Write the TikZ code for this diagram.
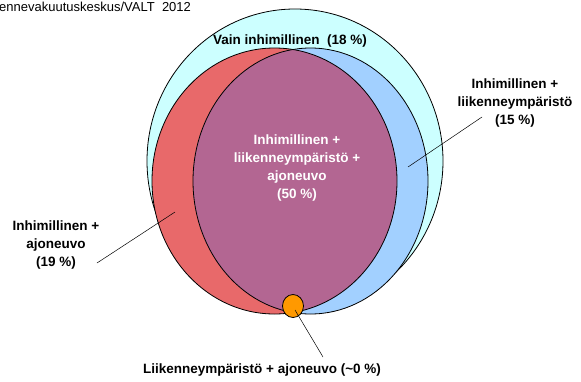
\documentclass[tikz,border=0pt]{standalone}
\usepackage{fontspec}
\usetikzlibrary{shapes.geometric}
\setmainfont{Liberation Sans}
\definecolor{cyanfill}{HTML}{CCFFFF}
\definecolor{redfill}{HTML}{E8696A}
\definecolor{bluefill}{HTML}{A2D0FF}
\definecolor{purplefill}{HTML}{B36692}
\definecolor{orangefill}{HTML}{FF9900}
\begin{document}
\begin{tikzpicture}[x=1pt,y=-1pt,
  lbl/.style={font=\bfseries\fontsize{13.5}{18}\selectfont, align=center, inner sep=0pt},
  hdr/.style={font=\fontsize{13}{15}\selectfont, inner sep=0pt},
  leader/.style={draw=black, line width=0.5pt},
  ring/.style={draw=black, line width=0.8pt}]
\useasboundingbox (0,0) rectangle (581,381);
% outer circle
\filldraw[fill=cyanfill, ring] (295,161) ellipse [x radius=148, y radius=152];
% red and blue
\fill[redfill] (274.5,181) ellipse [x radius=122.5, y radius=133];
\fill[bluefill] (310.5,181) ellipse [x radius=117.5, y radius=133];
\begin{scope}
  \clip (274.5,181) ellipse [x radius=122.5, y radius=133];
  \fill[purplefill] (310.5,181) ellipse [x radius=117.5, y radius=133];
\end{scope}
\draw[ring] (274.5,181) ellipse [x radius=122.5, y radius=133];
\draw[ring] (310.5,181) ellipse [x radius=117.5, y radius=133];
% orange
\node[draw=black, line width=0.8pt, fill=orangefill, ellipse, minimum width=21pt, minimum height=23pt, inner sep=0pt] (orange) at (293,306) {};
% coordinates
\coordinate (redpt) at (175,212);
\coordinate (bluept) at (408,167);
\coordinate (orpt) at (295,310);
\coordinate (leftend) at (97,263);
\coordinate (rightend) at (482,117);
\coordinate (botend) at (323,357);
% leaders
\draw[leader] (redpt) -- (leftend);
\draw[leader] (bluept) -- (rightend);
\draw[leader] (orpt) -- (botend);
% labels
\node[lbl] (title) at (290,41) {Vain inhimillinen\ \ (18 \%)};
\node[lbl, text=white] (center) at (297,168.5) {Inhimillinen +\\liikenneympäristö +\\ajoneuvo\\(50 \%)};
\node[lbl] (leftlbl) at (56,245) {Inhimillinen +\\ajoneuvo\\(19 \%)};
\node[lbl] (rightlbl) at (515,103) {Inhimillinen +\\liikenneympäristö\\(15 \%)};
\node[lbl] (botlbl) at (262,370) {Liikenneympäristö + ajoneuvo (\textasciitilde 0 \%)};
\node[hdr, anchor=west] (header) at (-1,7) {ennevakuutuskeskus/VALT\ \ 2012};
\end{tikzpicture}
\end{document}
